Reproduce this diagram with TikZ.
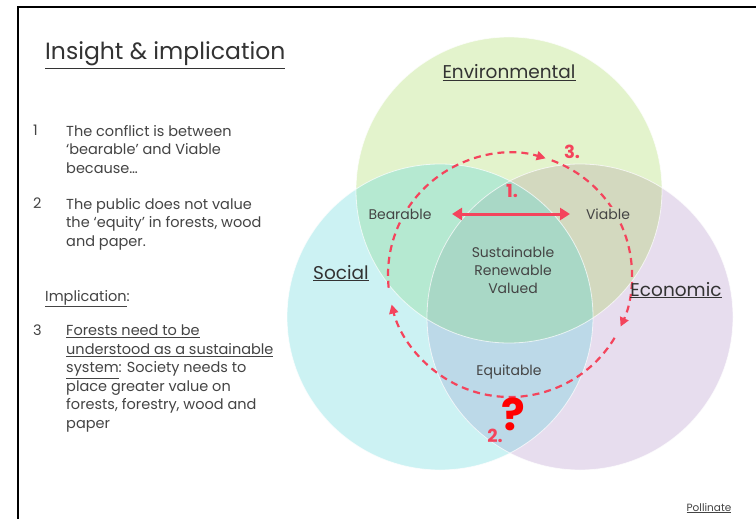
\documentclass[tikz,border=0pt]{standalone}
\usepackage{fontspec}
\setmainfont{Poppins}
\usetikzlibrary{arrows.meta}
\definecolor{envc}{HTML}{E3F3CC}
\definecolor{socc}{HTML}{CCF2F3}
\definecolor{ecoc}{HTML}{E7DDEE}
\definecolor{envsoc}{HTML}{B5E9D1}
\definecolor{enveco}{HTML}{D3D9BF}
\definecolor{soceco}{HTML}{BCD9E8}
\definecolor{allc}{HTML}{A9D8C6}
\definecolor{pinkred}{HTML}{F4445C}
\definecolor{bodytext}{HTML}{444444}
\newcommand{\ul}[1]{\underline{#1}}
\tikzset{
  body/.style={anchor=north west, text=bodytext, font=\fontsize{14.5}{18.5}\selectfont, align=left, inner sep=0pt},
  setlabel/.style={anchor=base, text=black!80, font=\fontsize{18.5}{20}\selectfont, inner sep=0pt},
  region/.style={text=bodytext, font=\fontsize{14}{18}\selectfont, align=center, inner sep=1pt},
  marker/.style={anchor=base, text=pinkred, font=\fontsize{18}{20}\selectfont\bfseries, inner sep=0pt},
  loop/.style={pinkred, line width=2.2pt, dash pattern=on 7pt off 5pt, -{Triangle[length=9pt,width=9pt]}},
  conflict/.style={pinkred, line width=3pt, {Triangle[length=10pt,width=12pt]}-{Triangle[length=10pt,width=12pt]}},
}
\begin{document}
\begin{tikzpicture}[x=1pt,y=-1pt]
\useasboundingbox (0,0) rectangle (756,519);
\clip (0,0) rectangle (756,519);
\fill[white] (0,0) rectangle (756,519);
% slide frame
\draw[line width=2.5pt] (18,7) rectangle (780,540);

% the three circles
\coordinate (E) at (509,190);
\coordinate (S) at (440,317);
\coordinate (C) at (580,317);
\fill[envc] (E) circle (153);
\fill[socc] (S) circle (153);
\fill[ecoc] (C) circle (153);
\begin{scope}\clip (E) circle (153); \fill[envsoc] (S) circle (153); \end{scope}
\begin{scope}\clip (E) circle (153); \fill[enveco] (C) circle (153); \end{scope}
\begin{scope}\clip (S) circle (153); \fill[soceco] (C) circle (153); \end{scope}
\begin{scope}\clip (E) circle (153); \clip (S) circle (153); \fill[allc] (C) circle (153); \end{scope}
\draw[white, line width=0.8pt, opacity=0.7] (E) circle (153) (S) circle (153) (C) circle (153);

% dashed cycle
\coordinate (O) at (510,275);
\draw[loop] (O) ++(-186:122) arc[start angle=-186, end angle=-73, radius=122];
\draw[loop] (O) ++(-70:122) arc[start angle=-70, end angle=25, radius=122];
\draw[loop] (O) ++(31:122) arc[start angle=31, end angle=166, radius=122];

% region labels
\node[region, fill=envsoc, anchor=base] (bear) at (400,219) {Bearable};
\node[region, fill=enveco, anchor=base] (viab) at (608,219) {Viable};
\node[region] (core) at (513,270) {Sustainable\\Renewable\\Valued};
\node[region, anchor=base] (equi) at (509,375) {Equitable};

% conflict arrow between Bearable and Viable
\coordinate (la) at (452,214);
\coordinate (ra) at (570,214);
\draw[conflict] (la) -- (ra);

\node[marker] (m1) at (512,197) {1.};
\node[marker] (m3) at (572,158) {3.};
\node[marker] (m2) at (495,442) {2.};
\node[anchor=base, text=red, font=\fontsize{44}{44}\selectfont\bfseries, inner sep=0pt] (q) at (513,430) {?};

% set labels
\node[setlabel] (env) at (509,79) {\ul{Environmental}};
\node[setlabel] (soc) at (341,279) {\ul{Social}};
\node[setlabel] (eco) at (676,296) {\ul{Economic}};

% left column
\node[anchor=base west, text=black!80, font=\fontsize{23.5}{26}\selectfont, inner sep=0pt] (title) at (45,60) {\ul{Insight \& implication}};
\node[body] (n1) at (33,125) {1};
\node[body] (t1) at (66,125) {The conflict is between\\‘bearable’ and Viable\\because…};
\node[body] (n2) at (33,198) {2};
\node[body] (t2) at (66,198) {The public does not value\\the ‘equity’ in forests, wood\\and paper.};
\node[body] (impl) at (45,290) {\ul{Implication}:};
\node[body] (n3) at (33,325) {3};
\node[body] (t3) at (66,325) {\ul{Forests need to be}\\\ul{understood as a sustainable}\\\ul{system}: Society needs to\\place greater value on\\forests, forestry, wood and\\paper};
\node[anchor=base, text=bodytext, font=\fontsize{10.5}{12}\selectfont, inner sep=0pt] (poll) at (709,511) {\ul{Pollinate}};
\end{tikzpicture}
\end{document}
